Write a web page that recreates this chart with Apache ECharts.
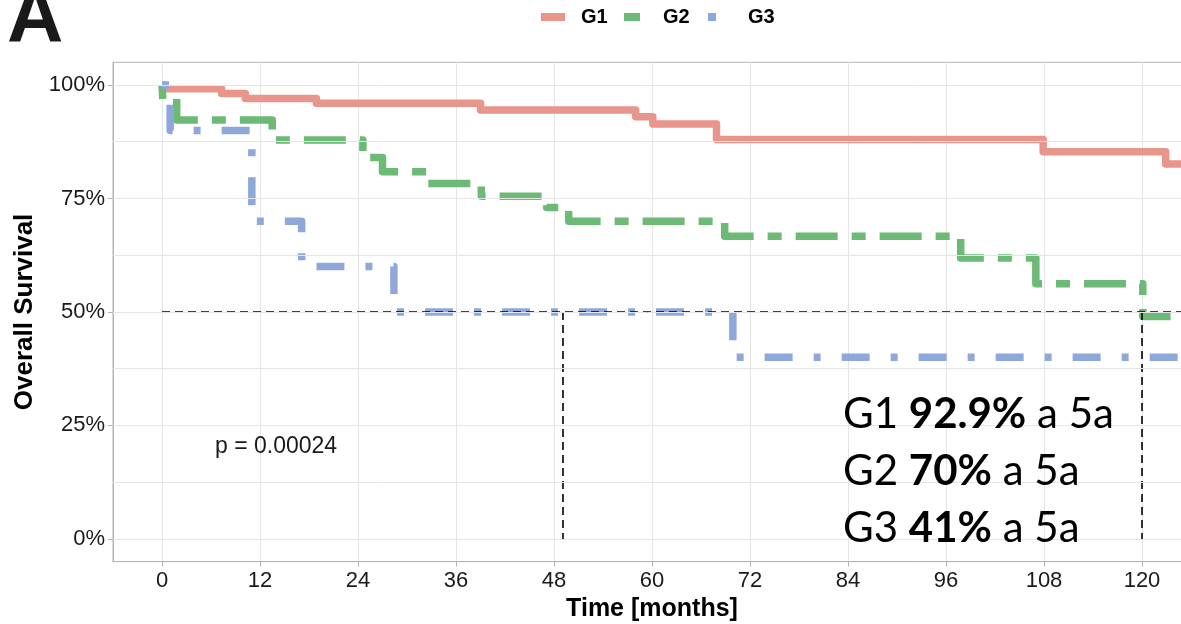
<!DOCTYPE html>
<html>
<head>
<meta charset="utf-8">
<script src="https://cdn.jsdelivr.net/npm/echarts@6/dist/echarts.min.js"></script>
<style>html,body{margin:0;padding:0;background:#fff}#c{width:1181px;height:624px}</style>
</head>
<body>
<div id="c"></div>
<script>
// ---- data ----
const groupNames = ['G1', 'G2', 'G3'];
const xTicks = [0, 12, 24, 36, 48, 60, 72, 84, 96, 108, 120];
const yTicks = [0, 25, 50, 75, 100];
const yGrid = [0, 12.5, 25, 37.5, 50, 62.5, 75, 87.5, 100];
// [months, survival %] Kaplan-Meier steps
const g1 = [[0,100],[0.3,99.2],[7.3,98.1],[10.2,97.0],[18.9,96.0],[39.0,94.5],[58.0,93.0],[60.1,91.4],[67.9,88.0],[107.9,85.3],[122.9,82.6],[125,82.6]];
const g2 = [[0,100],[0.1,96.9],[1.8,92.3],[13.5,87.9],[24.6,84.0],[27.0,80.9],[32.6,78.3],[39.1,75.5],[47.1,73.0],[49.8,70.0],[68.9,66.7],[97.8,61.9],[107.0,56.2],[120.1,49.0],[123.5,49.0]];
const g3 = [[0,100],[1.0,90.0],[11.0,70.0],[17.1,60.0],[28.4,50.0],[69.9,40.0],[125,40.0]];
const medianH = [[0,50],[126,50]];
const medianV1 = [[49.1,50],[49.1,0]];
const medianV2 = [[120,50],[120,0]];
const pText = 'p = 0.00024';
const notes = [['G1 ', '92.9%', ' a 5a'], ['G2 ', '70%', ' a 5a'], ['G3 ', '41%', ' a 5a']];

const colors = ['#E8958B', '#6DB976', '#8FA8DA'];
const dashes = ['solid', [14, 14, 42, 14], [7, 21, 28, 21]];
const curves = [g1, g2, g3];

const chart = echarts.init(document.getElementById('c'), null, {renderer: 'canvas'});
const tickFont = {fontFamily: 'Liberation Sans, Arial, sans-serif', fontSize: 22, color: '#1a1a1a'};
const xTitleFont = {fontFamily: 'Liberation Sans, Arial, sans-serif', fontSize: 25, fontWeight: 'bold', color: '#000'};
const yTitleFont = {fontFamily: 'Liberation Sans, Arial, sans-serif', fontSize: 26, fontWeight: 'bold', color: '#000'};

const legendLefts = [541, 624, 708];
const legendWidths = [24, 16, 8];
const legendPads = [11, 18, 27];

const series = curves.map((d, i) => ({
  name: groupNames[i],
  type: 'line',
  step: 'end',
  data: d,
  showSymbol: false,
  symbol: 'none',
  z: 3,
  lineStyle: {color: colors[i], width: 7.5, type: dashes[i], join: 'round', cap: 'butt'},
  itemStyle: {color: colors[i]},
  emphasis: {disabled: true}
}));
// y grid lines from tick values (helper series with markLine only)
series.unshift({
  name: 'ygrid', type: 'line', data: [], z: 1, silent: true,
  markLine: {silent: true, symbol: 'none', label: {show: false}, animation: false,
    lineStyle: {color: '#e5e5e5', width: 1, type: 'solid'},
    emphasis: {disabled: true},
    data: yGrid.map(v => ({yAxis: v}))}
});
[medianH, medianV1, medianV2].forEach((d, k) => series.push({
  name: 'median' + k, type: 'line', data: d, showSymbol: false, symbol: 'none', z: 4, silent: true,
  lineStyle: {color: '#000', width: 1.6, type: [8, 5]}, emphasis: {disabled: true}
}));

const option = {
  animation: false,
  backgroundColor: '#fff',
  legend: groupNames.map((n, i) => ({
    data: [n], left: legendLefts[i], top: 7, padding: 0,
    icon: 'rect', itemWidth: legendWidths[i], itemHeight: 8,
    textStyle: {fontFamily: 'Liberation Sans, Arial, sans-serif', fontSize: 20, fontWeight: 'bold', color: '#000', padding: [0, 0, 0, legendPads[i]]}
  })),
  grid: {left: 113, top: 62.3, width: 1078, height: 499.3, outerBoundsMode: 'none', containLabel: false,
    show: true, borderColor: '#b3b3b3', borderWidth: 1, backgroundColor: 'transparent'},
  xAxis: {
    type: 'value', min: -6, max: 126, interval: 6,
    name: 'Time [months]', nameLocation: 'middle', nameGap: 34, nameTextStyle: xTitleFont,
    axisLine: {show: true, onZero: false, lineStyle: {color: '#b3b3b3', width: 1}},
    axisTick: {show: true, length: 5, customValues: xTicks, lineStyle: {color: '#b3b3b3'}},
    axisLabel: {customValues: xTicks, margin: 8, ...tickFont, formatter: v => xTicks.includes(v) ? String(v) : ''},
    splitLine: {show: true, lineStyle: {color: '#e5e5e5', width: 1}}
  },
  yAxis: {
    type: 'value', min: -5, max: 105,
    name: 'Overall Survival', nameLocation: 'middle', nameGap: 74, nameRotate: 90, nameTextStyle: yTitleFont,
    axisLine: {show: true, onZero: false, lineStyle: {color: '#b3b3b3', width: 1}},
    axisTick: {show: true, length: 5, customValues: yTicks, lineStyle: {color: '#b3b3b3'}},
    axisLabel: {customValues: yTicks, margin: 8, ...tickFont, formatter: v => yTicks.includes(v) ? v + '%' : ''},
    splitLine: {show: false}
  },
  graphic: [
    {type: 'text', x: 7, y: 20, silent: true, style: {text: 'A', fontFamily: 'Liberation Sans, Arial, sans-serif', fontSize: 78, fontWeight: 'bold', fill: '#1a1a1a', verticalAlign: 'middle'}},
    {type: 'text', x: 215, y: 447, silent: true, z: 10, style: {text: pText, fontFamily: 'Liberation Sans, Arial, sans-serif', fontSize: 23, fill: '#1a1a1a', verticalAlign: 'middle'}}
  ].concat(notes.map((t, i) => ({
    type: 'text', x: 843, y: 414 + i * 57, silent: true, z: 10,
    style: {
      text: '{n|' + t[0] + '}{b|' + t[1] + '}{n|' + t[2] + '}',
      verticalAlign: 'middle',
      rich: {
        n: {fontFamily: 'Lato, sans-serif', fontSize: 42, fill: '#000'},
        b: {fontFamily: 'Lato, sans-serif', fontSize: 42, fontWeight: 'bold', fill: '#000'}
      }
    }
  }))),
  series: series
};
chart.setOption(option);
</script>
</body>
</html>
